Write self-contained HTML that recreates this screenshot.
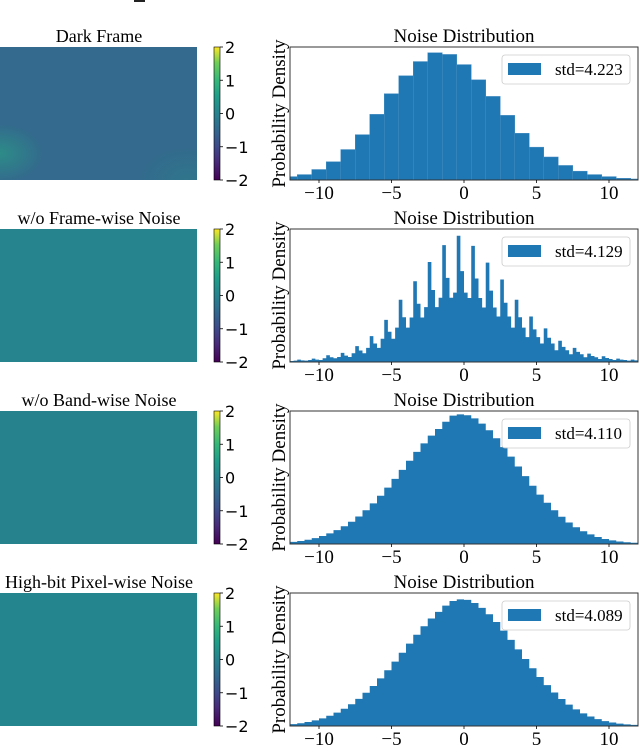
<!DOCTYPE html>
<html><head><meta charset="utf-8">
<style>
body{margin:0;background:#fff;}
svg{display:block;}
.serif{font-family:"Liberation Serif",serif;}
.sans{font-family:"DejaVu Sans","Liberation Sans",sans-serif;}
</style></head>
<body>
<svg id="fig" width="640" height="748" viewBox="0 0 640 748" xmlns="http://www.w3.org/2000/svg">
<defs>
<linearGradient id="viridis" x1="0" y1="1" x2="0" y2="0">
<stop offset="0" stop-color="#440154"/><stop offset="0.13" stop-color="#482878"/>
<stop offset="0.25" stop-color="#3e4a89"/><stop offset="0.38" stop-color="#31688e"/>
<stop offset="0.5" stop-color="#26828e"/><stop offset="0.63" stop-color="#1f9e89"/>
<stop offset="0.75" stop-color="#35b779"/><stop offset="0.88" stop-color="#6ece58"/>
<stop offset="1" stop-color="#fde725"/>
</linearGradient>
<radialGradient id="cornerGlow" cx="0" cy="0.8" r="0.22">
<stop offset="0" stop-color="#2a9a86" stop-opacity="0.7"/><stop offset="1" stop-color="#2a9a86" stop-opacity="0"/>
</radialGradient>
<radialGradient id="cornerGlow2" cx="0.95" cy="1" r="0.25">
<stop offset="0" stop-color="#2a8a8a" stop-opacity="0.35"/><stop offset="1" stop-color="#2a8a8a" stop-opacity="0"/>
</radialGradient>
</defs>
<rect x="134" y="0" width="11" height="2" fill="#222"/>
<g id="root"></g>
</svg>
<script>
// Histogram 1: bin centers -12..12 (width 1)
const h1Centers = [-12,-11,-10,-9,-8,-7,-6,-5,-4,-3,-2,-1,0,1,2,3,4,5,6,7,8,9,10,11,12];
const h1Values  = [10,16,31,54,90,134,194,255,308,350,376,371,341,296,247,191,138,97,68,43,26,16,10,5,3];
// Histogram 2: fine bins (width 0.25) starting at -12.75
const h2BinStart = -12.75, h2BinWidth = 0.25;
const h2Values = [
3,5,4,3, 4,7,5,4, 6,10,7,6, 11,20,14,11, 15,27,19,15,
26,47,34,26, 42,77,55,42, 69,125,90,69, 102,185,133,102, 132,240,173,132,
163,297,214,163, 191,347,250,191, 206,375,270,206, 190,345,248,190, 162,295,212,162,
135,245,176,135, 102,185,133,102, 74,135,97,74, 55,100,72,55, 35,63,45,35,
23,42,30,23, 14,25,18,14, 9,17,12,9, 6,10,7,6, 4,7,5,4];
// Histogram 3/4: Gaussian-like, width 0.5
const h3Centers = [-11.75,-11.25,-10.75,-10.25,-9.75,-9.25,-8.75,-8.25,-7.75,-7.25,-6.75,-6.25,-5.75,-5.25,-4.75,-4.25,-3.75,-3.25,-2.75,-2.25,-1.75,-1.25,-0.75,-0.25,0.25,0.75,1.25,1.75,2.25,2.75,3.25,3.75,4.25,4.75,5.25,5.75,6.25,6.75,7.25,7.75,8.25,8.75,9.25,9.75,10.25,10.75,11.25,11.75];
const h3Values  = [0.016,0.023,0.032,0.044,0.060,0.080,0.104,0.133,0.167,0.207,0.254,0.305,0.363,0.424,0.490,0.557,0.626,0.693,0.757,0.815,0.865,0.919,0.965,0.975,0.968,0.945,0.905,0.855,0.795,0.728,0.657,0.583,0.510,0.438,0.371,0.310,0.254,0.205,0.162,0.126,0.096,0.072,0.053,0.038,0.027,0.019,0.013,0.009];
const h4Values  = [0.014,0.021,0.030,0.042,0.057,0.077,0.101,0.130,0.164,0.204,0.250,0.301,0.358,0.419,0.484,0.551,0.619,0.686,0.750,0.808,0.858,0.905,0.940,0.952,0.948,0.925,0.888,0.840,0.782,0.717,0.648,0.576,0.504,0.434,0.368,0.307,0.252,0.203,0.161,0.125,0.095,0.071,0.052,0.037,0.026,0.018,0.012,0.008];
const h1Max = 393, h2Max = 395, h3Max = 1.0, h4Max = 1.0;
const xTicks = [-10,-5,0,5,10];
const xTickLabels = ["\u221210","\u22125","0","5","10"];
const cbTicks = [2,1,0,-1,-2];
const cbTickLabels = ["2","1","0","\u22121","\u22122"];
const heatTitles = ["Dark Frame","w/o Frame-wise Noise","w/o Band-wise Noise","High-bit Pixel-wise Noise"];
const stdLabels = ["std=4.223","std=4.129","std=4.110","std=4.089"];
const heatColors = ["#336a8d","#26848e","#26838e","#25858e"];

const NS="http://www.w3.org/2000/svg";
const root=document.getElementById('root');
function mk(tag,attrs,parent){const e=document.createElementNS(NS,tag);for(const k in attrs)e.setAttribute(k,attrs[k]);(parent||root).appendChild(e);return e;}

const rowTops=[47,229,411,593], H=133;
const AX_L=290, AX_R=638, XMIN=-12, XMAX=12;
function xScale(v){return AX_L+(v-XMIN)/(XMAX-XMIN)*(AX_R-AX_L);}

const h2Centers = h2Values.map((_,k)=>h2BinStart+h2BinWidth*(k+0.5));
const hists=[
 {c:h1Centers,v:h1Values,w:1,max:h1Max,gap:true},
 {c:h2Centers,v:h2Values,w:h2BinWidth,max:h2Max},
 {c:h3Centers,v:h3Values,w:0.5,max:h3Max},
 {c:h3Centers,v:h4Values,w:0.5,max:h4Max}];

rowTops.forEach((top,i)=>{
  const g=mk('g',{});
  
  
  const hm=mk('rect',{x:0,y:top,width:197,height:H,fill:heatColors[i]},g);
  
  
  if(i===0){
    mk('rect',{x:0,y:top,width:197,height:H,fill:'url(#cornerGlow)'},g);
    mk('rect',{x:0,y:top,width:197,height:H,fill:'url(#cornerGlow2)'},g);
  }
  const ht=mk('text',{x:99,y:top-5,'text-anchor':'middle','font-size':18,class:'serif',fill:'#000'},g);
  ht.textContent=heatTitles[i];
  
  
  const cb=mk('rect',{x:214,y:top,width:6,height:H,fill:'url(#viridis)',stroke:'#000','stroke-width':0.6},g);
  
  
  cbTicks.forEach((t,k)=>{
    const y=top+(2-t)/4*H;
    mk('line',{x1:220,x2:223,y1:y,y2:y,stroke:'#000','stroke-width':0.8},g);
    const tl=mk('text',{x:225,y:y+6,'font-size':16,class:'sans',fill:'#000'},g);
    tl.textContent=cbTickLabels[k];
    
    
  });
  const h=hists[i];
  const clip=mk('clipPath',{id:'clip'+i},g);
  mk('rect',{x:AX_L,y:top,width:AX_R-AX_L,height:H},clip);
  const bars=mk('g',{'clip-path':'url(#clip'+i+')'},g);
  
  
  if(h.gap){
    h.c.forEach((c,k)=>{
      const x0=xScale(c-h.w/2), x1=xScale(c+h.w/2);
      const bh=h.v[k]/h.max*H;
      const b=mk('rect',{x:x0,y:top+H-bh,width:x1-x0,height:bh,fill:'#1f77b4',stroke:'#4a90c4','stroke-width':0.5},bars);
      
      
    });
  } else {
    let d='M'+xScale(h.c[0]-h.w/2)+','+(top+H);
    h.c.forEach((c,k)=>{
      const y=top+H-h.v[k]/h.max*H;
      d+=' L'+xScale(c-h.w/2)+','+y+' L'+xScale(c+h.w/2)+','+y;
    });
    d+=' L'+xScale(h.c[h.c.length-1]+h.w/2)+','+(top+H)+' Z';
    const p=mk('path',{d:d,fill:'#1f77b4',stroke:'none'},bars);
    
    
  }
  const fr=mk('rect',{x:AX_L,y:top,width:AX_R-AX_L,height:H,fill:'none',stroke:'#333','stroke-width':1},g);
  
  
  xTicks.forEach((t,k)=>{
    const x=xScale(t);
    mk('line',{x1:x,x2:x,y1:top+H,y2:top+H+3,stroke:'#000','stroke-width':0.8},g);
    const tl=mk('text',{x:x,y:top+H+19,'text-anchor':'middle','font-size':19,class:'serif',fill:'#000'},g);
    tl.textContent=xTickLabels[k];
    
    
  });
  const tt=mk('text',{x:464,y:top-5,'text-anchor':'middle','font-size':19,class:'serif',fill:'#000'},g);
  tt.textContent='Noise Distribution';
  
  
  const yl=mk('text',{x:0,y:0,'text-anchor':'middle','font-size':19,class:'serif',fill:'#000',transform:'translate(285,'+(top+H/2)+') rotate(-90)'},g);
  yl.textContent='Probability Density';
  
  
  const lg=mk('g',{},g);
  
  
  mk('rect',{x:502,y:top+8,width:128,height:29,rx:3,fill:'#fff','fill-opacity':0.85,stroke:'#ccc','stroke-width':0.8},lg);
  mk('rect',{x:508,y:top+16,width:33,height:12,fill:'#1f77b4'},lg);
  const lt=mk('text',{x:555,y:top+28,'font-size':17,class:'serif',fill:'#000'},lg);
  lt.textContent=stdLabels[i];
  
  
});
</script>
</body></html>
